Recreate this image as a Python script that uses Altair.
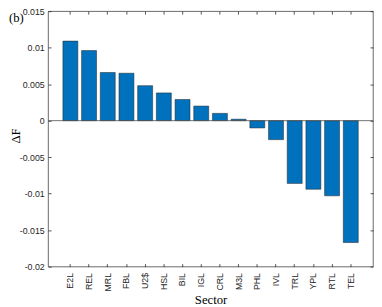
import altair as alt
import pandas as pd

# ---- data ----
sectors = ["E2L", "REL", "MRL", "FBL", "U2$", "HSL", "BIL", "IGL",
           "CRL", "M3L", "PHL", "IVL", "TRL", "YPL", "RTL", "TEL"]
delta_f = [0.0109, 0.0096, 0.0066, 0.0065, 0.0048, 0.0038, 0.0029, 0.0020,
           0.0010, 0.0002, -0.0010, -0.0026, -0.0086, -0.0094, -0.0103, -0.0167]
y_ticks = [-0.02, -0.015, -0.01, -0.005, 0, 0.005, 0.01, 0.015]
zero_line = [0]

df = pd.DataFrame({"sector": sectors, "dF": delta_f})
zdf = pd.DataFrame({"y": zero_line})

W, H = 332, 261
AX = "#262626"
SANS = "Liberation Sans"
SERIF = "Liberation Serif"

xscale = alt.Scale(domain=sectors, paddingInner=0.2, paddingOuter=0.79)
yscale = alt.Scale(domain=[-0.02, 0.015], nice=False, zero=False)
label_expr = "replace(format(datum.value, '~g'), '\u2212', '-')"

base = alt.Chart(df)

bars = base.mark_bar(color="#0072BD", stroke="#1f1f1f", strokeWidth=0.5).encode(
    x=alt.X("sector:N", sort=sectors, scale=xscale,
            axis=alt.Axis(orient="bottom", title="Sector", ticks=False, tickSize=0,
                          domain=False, grid=False, labelAngle=270, labelPadding=6,
                          labelFont=SANS, labelFontSize=9, labelColor=AX,
                          titleFont=SERIF, titleFontSize=13, titleFontWeight="normal",
                          titleColor="#000000", titleBaseline="alphabetic",
                          titleX=W / 2, titleY=38, titleAlign="center")),
    y=alt.Y("dF:Q", scale=yscale,
            axis=alt.Axis(orient="left", title="ΔF", values=y_ticks, labelExpr=label_expr,
                          ticks=False, tickSize=0, domain=False, grid=False, labelPadding=4,
                          labelFont=SANS, labelFontSize=9, labelColor=AX,
                          titleFont=SERIF, titleFontSize=13, titleFontWeight="normal",
                          titleColor="#000000", titleAngle=270, titleBaseline="middle",
                          titleAlign="center", titleX=-33, titleY=127)),
)

zero = alt.Chart(zdf).mark_rule(color="#4d4d4d", strokeWidth=0.8).encode(
    y=alt.Y("y:Q", scale=yscale, axis=None)
)

tick_common = dict(labels=False, title="", domain=False, ticks=True, tickSize=3,
                   offset=-3, tickColor=AX, tickWidth=0.8, grid=False)

ticks_bl = base.mark_bar(opacity=0).encode(
    x=alt.X("sector:N", sort=sectors, scale=xscale,
            axis=alt.Axis(orient="bottom", bandPosition=0.5, **tick_common)),
    y=alt.Y("dF:Q", scale=yscale,
            axis=alt.Axis(orient="left", values=y_ticks, **tick_common)),
)

ticks_tr = base.mark_bar(opacity=0).encode(
    x=alt.X("sector:N", sort=sectors, scale=xscale,
            axis=alt.Axis(orient="top", bandPosition=0.5, **tick_common)),
    y=alt.Y("dF:Q", scale=yscale,
            axis=alt.Axis(orient="right", values=y_ticks, **tick_common)),
)

chart = (
    alt.layer(bars, zero, ticks_bl, ticks_tr)
    .resolve_axis(x="independent", y="independent")
    .properties(
        width=W,
        height=H,
        autosize=alt.AutoSizeParams(type="none"),
        padding={"left": 41, "top": 0, "right": 1, "bottom": 38},
        title=alt.TitleParams(text="(b)", anchor="start", frame="group", orient="top",
                              dx=-40, dy=22, font=SERIF, fontSize=13,
                              fontWeight="normal", color="#000000"),
    )
    .configure_view(stroke=AX, strokeWidth=0.7)
    .configure_axis(grid=False)
)

chart.save("out.html", embed_options={"renderer": "svg", "actions": False})
